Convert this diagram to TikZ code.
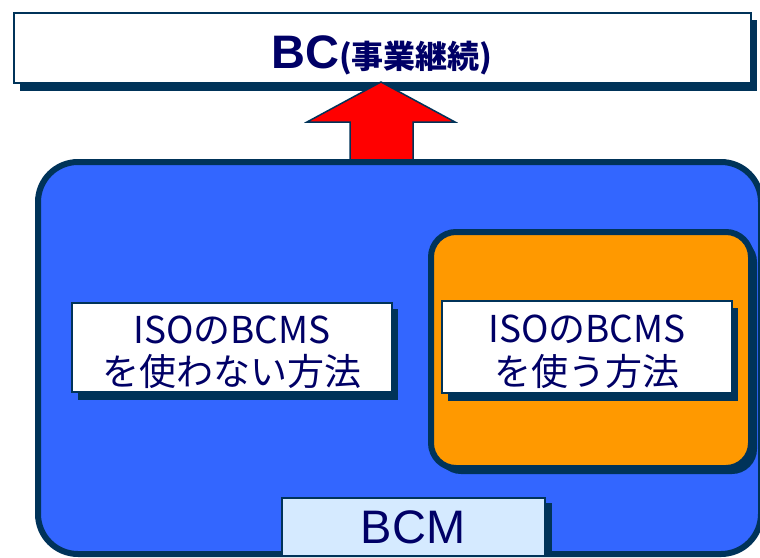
\documentclass[tikz,border=0pt]{standalone}
\usepackage{fontspec}
\setmainfont{Liberation Sans}
\newfontfamily\jpfont{Noto Sans CJK JP}
\definecolor{navytext}{HTML}{000066}
\definecolor{edgeblue}{HTML}{003359}
\definecolor{bcmblue}{HTML}{3366FF}
\definecolor{isoorange}{HTML}{FF9900}
\definecolor{bcmlight}{HTML}{D5EAFF}
\begin{document}
\begin{tikzpicture}[x=1pt, y=-1pt,
        shadow/.style={fill=edgeblue, draw=none},
        whitebox/.style={fill=white, draw=edgeblue, line width=2.5pt},
        caption/.style={text=navytext, inner sep=0pt, anchor=base},
        jptext/.style={caption, font=\jpfont\fontsize{37}{43}\selectfont}]
    \useasboundingbox (0, 0) rectangle (760, 557);
    \clip (0, 0) rectangle (760, 557);

    % BC box
    \fill [shadow] (20, 20) rectangle (757, 91);
    \draw [whitebox, line width=2pt] (14, 13) rectangle (751, 83);
    \node (bc) at (382, 68) [caption] {\bfseries\fontsize{47}{50}\selectfont BC\jpfont\fontsize{32}{34}\selectfont(事業継続)};

    % arrow
    \draw [fill=red, draw=edgeblue, line width=1.5pt, line join=miter]
        (381, 82) -- (455, 122) -- (413, 122) -- (413, 163)
        -- (350, 163) -- (350, 122) -- (307, 122) -- cycle;

    % BCM area
    \draw [fill=bcmblue, draw=edgeblue, line width=6pt, rounded corners=40pt]
        (38, 162) rectangle (761, 554);

    % orange area
    \fill [shadow, rounded corners=25pt] (436, 237) rectangle (757, 474);
    \draw [fill=isoorange, draw=edgeblue, line width=6pt, rounded corners=25pt]
        (431, 232) rectangle (751, 468);

    % without BCMS
    \fill [shadow] (78, 309) rectangle (398, 400);
    \draw [whitebox] (72, 303) rectangle (392, 392);
    \node (nouse1) at (232, 343) [jptext] {ISOのBCMS};
    \node (nouse2) at (232, 385) [jptext] {を使わない方法};

    % with BCMS
    \fill [shadow] (448, 308) rectangle (738, 401);
    \draw [whitebox] (442, 301) rectangle (732, 393);
    \node (use1) at (587, 342) [jptext] {ISOのBCMS};
    \node (use2) at (587, 385) [jptext] {を使う方法};

    % BCM label
    \fill [shadow] (289, 503) rectangle (552, 554);
    \draw [fill=bcmlight, draw=edgeblue, line width=2pt] (282, 498) rectangle (545, 556);
    \node (bcm) at (413, 543) [caption] {\fontsize{47}{50}\selectfont BCM};
\end{tikzpicture}
\end{document}
